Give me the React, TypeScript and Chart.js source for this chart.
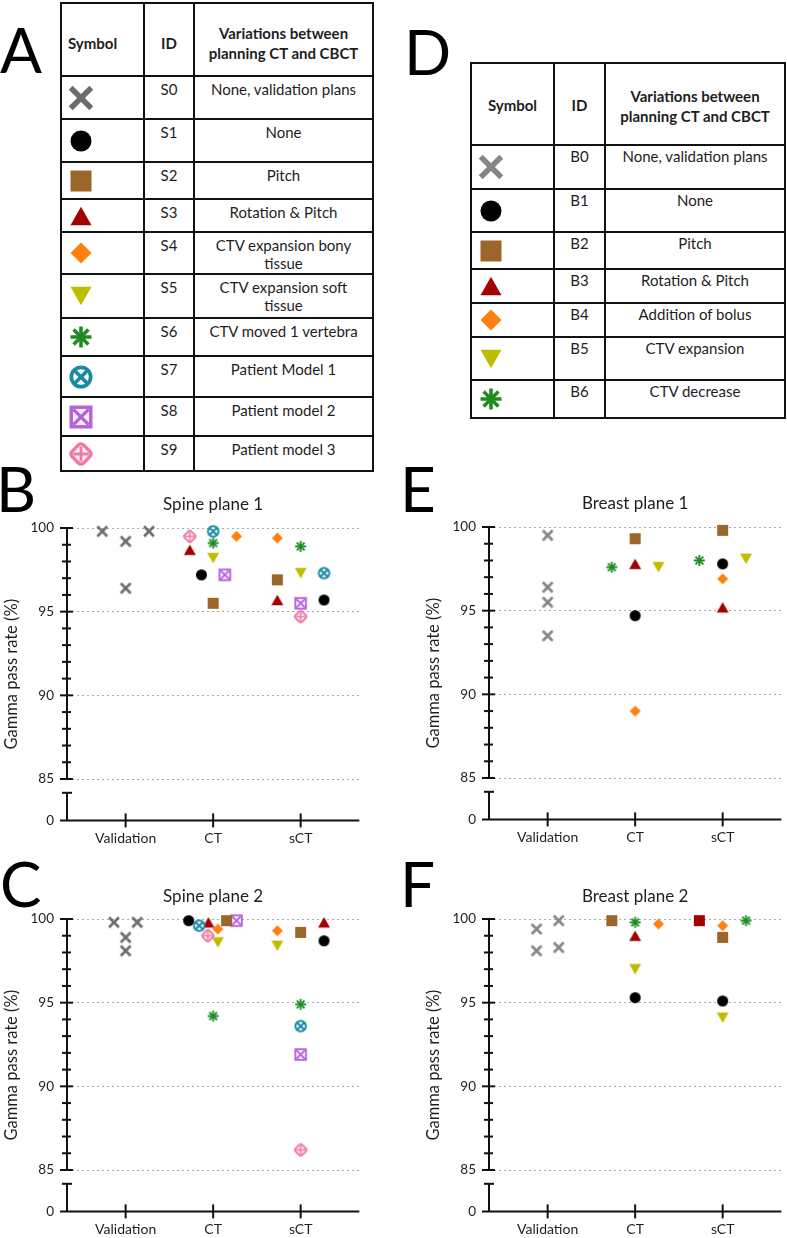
import React, { useEffect, useRef } from 'react';
import { Chart, registerables } from 'chart.js';

Chart.register(...registerables);

// ---------------------------------------------------------------------------
// Data
// ---------------------------------------------------------------------------

const CATEGORIES = ['Validation', 'CT', 'sCT'];
const Y_MAJOR_TICKS = [85, 90, 95, 100];

const SPINE_IDS = ['S0', 'S1', 'S2', 'S3', 'S4', 'S5', 'S6', 'S7', 'S8', 'S9'];
const SPINE_VARIATIONS = [
  'None, validation plans',
  'None',
  'Pitch',
  'Rotation & Pitch',
  'CTV expansion bony\ntissue',
  'CTV expansion soft\ntissue',
  'CTV moved 1 vertebra',
  'Patient Model 1',
  'Patient model 2',
  'Patient model 3',
];

const BREAST_IDS = ['B0', 'B1', 'B2', 'B3', 'B4', 'B5', 'B6'];
const BREAST_VARIATIONS = [
  'None, validation plans',
  'None',
  'Pitch',
  'Rotation & Pitch',
  'Addition of bolus',
  'CTV expansion',
  'CTV decrease',
];

type Point = [string, number, number]; // [series id, category index, gamma pass rate %]

const SPINE_PLANE_1: Point[] = [
  ['S0', 0, 99.8], ['S0', 0, 99.2], ['S0', 0, 99.8], ['S0', 0, 96.4],
  ['S9', 1, 99.5], ['S3', 1, 98.7], ['S1', 1, 97.2], ['S7', 1, 99.8], ['S6', 1, 99.1],
  ['S5', 1, 98.2], ['S2', 1, 95.5], ['S8', 1, 97.2], ['S4', 1, 99.5],
  ['S4', 2, 99.4], ['S2', 2, 96.9], ['S3', 2, 95.7], ['S6', 2, 98.9], ['S5', 2, 97.3],
  ['S8', 2, 95.5], ['S9', 2, 94.7], ['S7', 2, 97.3], ['S1', 2, 95.7],
];
const SPINE_PLANE_1_LANES = [-2, 0, 2, 0, -2, -2, -1, 0, 0, 0, 0, 1, 2, -2, -2, -2, 0, 0, 0, 0, 2, 2];

const SPINE_PLANE_2: Point[] = [
  ['S0', 0, 99.8], ['S0', 0, 99.8], ['S0', 0, 98.9], ['S0', 0, 98.1],
  ['S1', 1, 99.9], ['S7', 1, 99.6], ['S3', 1, 99.8], ['S9', 1, 99.0], ['S4', 1, 99.4],
  ['S5', 1, 98.6], ['S2', 1, 99.9], ['S8', 1, 99.9], ['S6', 1, 94.2],
  ['S4', 2, 99.3], ['S5', 2, 98.4], ['S2', 2, 99.2], ['S6', 2, 94.9], ['S7', 2, 93.6],
  ['S8', 2, 91.9], ['S9', 2, 86.2], ['S3', 2, 99.8], ['S1', 2, 98.7],
];
const SPINE_PLANE_2_LANES = [-1, 1, 0, 0, -2.1, -1.2, -0.4, -0.45, 0.4, 0.4, 1.15, 2, 0, -2, -2, 0, 0, 0, 0, 0, 2, 2];

const BREAST_PLANE_1: Point[] = [
  ['B0', 0, 99.5], ['B0', 0, 96.4], ['B0', 0, 95.5], ['B0', 0, 93.5],
  ['B6', 1, 97.6], ['B2', 1, 99.3], ['B3', 1, 97.8], ['B1', 1, 94.7], ['B4', 1, 89.0], ['B5', 1, 97.6],
  ['B6', 2, 98.0], ['B2', 2, 99.8], ['B1', 2, 97.8], ['B4', 2, 96.9], ['B3', 2, 95.2], ['B5', 2, 98.1],
];
const BREAST_PLANE_1_LANES = [0, 0, 0, 0, -2, 0, 0, 0, 0, 2, -2, 0, 0, 0, 0, 2];

const BREAST_PLANE_2: Point[] = [
  ['B0', 0, 99.4], ['B0', 0, 98.1], ['B0', 0, 99.9], ['B0', 0, 98.3],
  ['B2', 1, 99.9], ['B6', 1, 99.8], ['B3', 1, 99.0], ['B5', 1, 97.0], ['B1', 1, 95.3], ['B4', 1, 99.7],
  ['B2r', 2, 99.9], ['B4', 2, 99.6], ['B2', 2, 98.9], ['B1', 2, 95.1], ['B5', 2, 94.1], ['B6', 2, 99.9],
];
const BREAST_PLANE_2_LANES = [-0.95, -0.95, 0.95, 0.95, -2, 0, 0, 0, 0, 2, -2, 0, 0, 0, 0, 2];

// ---------------------------------------------------------------------------
// Styles
// ---------------------------------------------------------------------------

type Kind = 'x' | 'circle' | 'square' | 'tri' | 'triDown' | 'diamond' | 'star' | 'circX' | 'boxX' | 'diaPlus';

const TEXT = '#1e1e1e';
const LINE = '2px solid #111';
const FONT = 'Lato, "Open Sans", sans-serif';

const SYMBOLS: Record<string, { kind: Kind; color: string }> = {
  S0: { kind: 'x', color: '#6c6c6c' },
  S1: { kind: 'circle', color: '#000000' },
  S2: { kind: 'square', color: '#9c662b' },
  S3: { kind: 'tri', color: '#a30000' },
  S4: { kind: 'diamond', color: '#ff800f' },
  S5: { kind: 'triDown', color: '#c0bd00' },
  S6: { kind: 'star', color: '#1f8c22' },
  S7: { kind: 'circX', color: '#1a8aa3' },
  S8: { kind: 'boxX', color: '#b563dd' },
  S9: { kind: 'diaPlus', color: '#f07aa6' },
  B0: { kind: 'x', color: '#858585' },
  B1: { kind: 'circle', color: '#000000' },
  B2: { kind: 'square', color: '#9c662b' },
  B2r: { kind: 'square', color: '#a30000' },
  B3: { kind: 'tri', color: '#a30000' },
  B4: { kind: 'diamond', color: '#ff800f' },
  B5: { kind: 'triDown', color: '#c0bd00' },
  B6: { kind: 'star', color: '#1f8c22' },
};

const CHART_SIZE: Record<Kind, number> = {
  x: 12, circle: 11, square: 11, tri: 12, triDown: 12, diamond: 11, star: 11, circX: 12.5, boxX: 12.5, diaPlus: 13,
};
const TABLE_SIZE: Record<Kind, number> = {
  x: 25, circle: 21, square: 21, tri: 21, triDown: 21, diamond: 21, star: 21, circX: 23, boxX: 23, diaPlus: 23,
};

function drawSymbol(ctx: CanvasRenderingContext2D, kind: Kind, color: string, s: number) {
  const h = s / 2;
  ctx.fillStyle = color;
  ctx.strokeStyle = color;
  ctx.lineJoin = 'miter';
  ctx.lineCap = 'butt';
  const path = (pts: number[][]) => {
    ctx.beginPath();
    pts.forEach(([x, y], i) => (i ? ctx.lineTo(x, y) : ctx.moveTo(x, y)));
    ctx.closePath();
  };
  const cross = (a: number, diag: boolean) => {
    ctx.beginPath();
    if (diag) {
      ctx.moveTo(-a, -a); ctx.lineTo(a, a); ctx.moveTo(a, -a); ctx.lineTo(-a, a);
    } else {
      ctx.moveTo(-a, 0); ctx.lineTo(a, 0); ctx.moveTo(0, -a); ctx.lineTo(0, a);
    }
    ctx.stroke();
  };
  switch (kind) {
    case 'x': {
      ctx.lineWidth = s * 0.22;
      cross(h - ctx.lineWidth * 0.4, true);
      break;
    }
    case 'circle':
      ctx.beginPath(); ctx.arc(0, 0, h, 0, Math.PI * 2); ctx.fill();
      break;
    case 'square':
      ctx.fillRect(-h, -h, s, s);
      break;
    case 'tri':
      path([[0, -0.44 * s], [h, 0.44 * s], [-h, 0.44 * s]]); ctx.fill();
      break;
    case 'triDown':
      path([[0, 0.44 * s], [h, -0.44 * s], [-h, -0.44 * s]]); ctx.fill();
      break;
    case 'diamond':
      path([[0, -h], [h, 0], [0, h], [-h, 0]]); ctx.fill();
      break;
    case 'star': {
      ctx.lineWidth = s * 0.17;
      cross(h, false);
      cross(h * 0.7071, true);
      break;
    }
    case 'circX': {
      const lw = s * 0.16;
      ctx.lineWidth = lw;
      const r = h - lw / 2;
      ctx.beginPath(); ctx.arc(0, 0, r, 0, Math.PI * 2);
      ctx.fillStyle = '#ffffff'; ctx.fill(); ctx.stroke();
      cross(r * 0.62, true);
      break;
    }
    case 'boxX': {
      const lw = s * 0.15;
      ctx.lineWidth = lw;
      const r = h - lw / 2;
      ctx.fillStyle = '#fbf3ff';
      ctx.fillRect(-r, -r, 2 * r, 2 * r);
      ctx.strokeRect(-r, -r, 2 * r, 2 * r);
      cross(r * 0.78, true);
      break;
    }
    case 'diaPlus': {
      const lw = s * 0.15;
      ctx.lineWidth = lw;
      const r = h - lw / 2;
      const q = r / 1.2;
      ctx.save();
      ctx.rotate(Math.PI / 4);
      ctx.beginPath();
      ctx.roundRect(-q, -q, 2 * q, 2 * q, q * 0.45);
      ctx.fillStyle = '#fff5f9';
      ctx.fill();
      ctx.stroke();
      ctx.restore();
      ctx.lineWidth = lw * 0.85;
      cross(r * 0.78, false);
      break;
    }
  }
}

const markerCache = new Map<string, HTMLCanvasElement>();
function markerFor(id: string): HTMLCanvasElement {
  const cached = markerCache.get(id);
  if (cached) return cached;
  const { kind, color } = SYMBOLS[id];
  const s = CHART_SIZE[kind];
  const c = document.createElement('canvas');
  const w = Math.ceil(s + 4);
  c.width = w;
  c.height = w;
  const ctx = c.getContext('2d')!;
  ctx.translate(w / 2, w / 2);
  drawSymbol(ctx, kind, color, s);
  markerCache.set(id, c);
  return c;
}

function SymbolIcon({ id }: { id: string }) {
  const ref = useRef<HTMLCanvasElement>(null);
  useEffect(() => {
    const c = ref.current;
    if (!c) return;
    const ctx = c.getContext('2d')!;
    ctx.clearRect(0, 0, c.width, c.height);
    ctx.save();
    ctx.translate(c.width / 2, c.height / 2);
    const { kind, color } = SYMBOLS[id];
    drawSymbol(ctx, kind, color, TABLE_SIZE[kind]);
    ctx.restore();
  }, [id]);
  return <canvas ref={ref} width={28} height={28} style={{ display: 'block' }} />;
}

// ---------------------------------------------------------------------------
// Symbol key tables
// ---------------------------------------------------------------------------

interface TableProps {
  left: number;
  top: number;
  colWidths: number[];
  rowHeights: number[];
  ids: string[];
  texts: string[];
  headerSymbolCentered: boolean;
  headerPad: number;
  textPad: number;
}

function KeyTable(p: TableProps) {
  const cell = (extra: React.CSSProperties): React.CSSProperties => ({
    boxSizing: 'border-box',
    borderRight: LINE,
    borderBottom: LINE,
    overflow: 'hidden',
    ...extra,
  });
  return (
    <div
      style={{
        position: 'absolute',
        left: p.left,
        top: p.top,
        display: 'grid',
        gridTemplateColumns: p.colWidths.map((w) => w + 'px').join(' '),
        gridTemplateRows: p.rowHeights.map((h) => h + 'px').join(' '),
        borderTop: LINE,
        borderLeft: LINE,
        color: TEXT,
        fontFamily: FONT,
        fontSize: 15,
        lineHeight: '18px',
      }}
    >
      <div
        style={cell({
          display: 'flex',
          alignItems: 'center',
          justifyContent: p.headerSymbolCentered ? 'center' : 'flex-start',
          paddingLeft: p.headerSymbolCentered ? 0 : 6,
          paddingTop: p.headerPad,
          fontWeight: 700,
        })}
      >
        Symbol
      </div>
      <div style={cell({ display: 'flex', alignItems: 'center', justifyContent: 'center', paddingTop: p.headerPad, fontWeight: 700 })}>
        ID
      </div>
      <div
        style={cell({
          display: 'flex',
          alignItems: 'center',
          justifyContent: 'center',
          textAlign: 'center',
          paddingTop: p.headerPad + 1,
          fontWeight: 700,
          whiteSpace: 'pre-line',
          lineHeight: '20px',
        })}
      >
        {'Variations between\nplanning CT and CBCT'}
      </div>
      {p.ids.map((id, i) => (
        <React.Fragment key={id}>
          <div style={cell({ display: 'flex', alignItems: 'center', paddingLeft: 5 })}>
            <SymbolIcon id={id} />
          </div>
          <div style={cell({ textAlign: 'center', paddingTop: p.textPad })}>{id}</div>
          <div style={cell({ textAlign: 'center', paddingTop: p.textPad, whiteSpace: 'pre-line' })}>{p.texts[i]}</div>
        </React.Fragment>
      ))}
    </div>
  );
}

// ---------------------------------------------------------------------------
// Scatter panels with a broken y axis (85-100 above, 0 below the break)
// ---------------------------------------------------------------------------

const AX = 67; // axis x inside the canvas
const TOP = 44; // top of the 85-100 segment inside the canvas
const PLOT_W = 293.3;
const PLOT_H = 292.4;
const UPPER_H = 251;
const RIGHT_PAD = 6;
const BOTTOM = 34;
const LANE = 0.1334;
const X_MIN = -0.67;
const X_MAX = 2.67;

const brokenAxisPlugin = {
  id: 'brokenAxis',
  beforeDatasetsDraw(chart: any, _args: any, opts: any) {
    const { ctx, chartArea } = chart;
    const ys = chart.scales.y;
    const yb = chart.scales.yb;
    const xs = chart.scales.x;
    const ax = chartArea.left;
    const seg = (x1: number, y1: number, x2: number, y2: number) => {
      ctx.beginPath();
      ctx.moveTo(x1, y1);
      ctx.lineTo(x2, y2);
      ctx.stroke();
    };
    ctx.save();
    ctx.strokeStyle = '#111';
    ctx.lineWidth = 2;
    const top = ys.getPixelForValue(ys.max);
    const bottom = ys.getPixelForValue(ys.min);
    seg(ax, top - 1, ax, bottom + 1);
    for (let v = ys.min; v <= ys.max; v += 1) {
      const py = ys.getPixelForValue(v);
      const len = v % 5 === 0 ? 7 : 5;
      seg(ax - len, py, ax + len - 1, py);
    }
    const b0 = yb.getPixelForValue(0);
    const b1 = yb.getPixelForValue(1);
    seg(ax, b1, ax, b0);
    seg(ax - 5, b1, ax + 5, b1);
    seg(ax - 7, b0, chartArea.right, b0);
    for (let i = 0; i < CATEGORIES.length; i++) {
      const px = xs.getPixelForValue(i);
      seg(px, b0 - 7, px, b0 + 7);
    }
    ctx.fillStyle = TEXT;
    ctx.font = `16.5px ${FONT}`;
    ctx.textAlign = 'center';
    ctx.textBaseline = 'middle';
    ctx.translate(ax - 55, (top + b0) / 2);
    ctx.rotate(-Math.PI / 2);
    ctx.fillText(opts.title, 0, 0);
    ctx.restore();
  },
};

interface PanelProps {
  title: string;
  points: Point[];
  lanes: number[];
  axisX: number;
  top100: number;
  titleY: number;
}

function ScatterPanel(p: PanelProps) {
  const ref = useRef<HTMLCanvasElement>(null);
  const left = p.axisX - AX;
  const top = p.top100 - TOP;
  const width = AX + PLOT_W + RIGHT_PAD;
  const height = TOP + PLOT_H + BOTTOM;

  useEffect(() => {
    const ids: string[] = [];
    p.points.forEach(([id]) => {
      if (!ids.includes(id)) ids.push(id);
    });
    const datasets = ids.map((id) => ({
      label: id,
      data: p.points
        .map(([sid, cat, value], i) => ({ sid, x: cat + p.lanes[i] * LANE, y: value }))
        .filter((d) => d.sid === id)
        .map(({ x, y }) => ({ x, y })),
      pointStyle: markerFor(id) as any,
      pointRadius: 6,
      pointHoverRadius: 6,
      showLine: false,
      clip: false as any,
      yAxisID: 'y',
    }));

    const titleLine = 17 * 1.2;
    const titleCenter = p.titleY - top;
    const padTop = titleCenter - titleLine / 2;
    const padBottom = TOP - padTop - titleLine;

    const chart = new Chart(ref.current!, {
      type: 'scatter',
      data: { datasets },
      plugins: [brokenAxisPlugin],
      options: {
        animation: false,
        responsive: true,
        maintainAspectRatio: false,
        events: [],
        layout: { padding: { left: 0, right: RIGHT_PAD, top: 0, bottom: 0 } },
        plugins: {
          legend: { display: false },
          tooltip: { enabled: false },
          title: {
            display: true,
            text: p.title,
            fullSize: false,
            color: TEXT,
            font: { family: FONT, size: 17, weight: 'normal' },
            padding: { top: padTop, bottom: padBottom },
          },
          brokenAxis: { title: 'Gamma pass rate (%)' },
        } as any,
        scales: {
          x: {
            type: 'linear',
            min: X_MIN,
            max: X_MAX,
            afterBuildTicks: (s: any) => {
              s.ticks = CATEGORIES.map((_, i) => ({ value: i }));
            },
            afterFit: (s: any) => {
              s.height = BOTTOM;
            },
            ticks: {
              autoSkip: false,
              maxRotation: 0,
              padding: 10,
              color: TEXT,
              font: { family: FONT, size: 14 },
              callback: (v: any) => CATEGORIES[v] ?? '',
            },
            grid: { display: false, drawTicks: false },
            border: { display: false },
          },
          y: {
            type: 'linear',
            position: 'left',
            stack: 'gamma',
            stackWeight: UPPER_H,
            weight: 1,
            min: 85,
            max: 100,
            afterBuildTicks: (s: any) => {
              s.ticks = Y_MAJOR_TICKS.map((v) => ({ value: v }));
            },
            afterFit: (s: any) => {
              s.width = AX;
            },
            ticks: { padding: 13, color: TEXT, font: { family: FONT, size: 13.5 } },
            grid: { color: '#a9a9a9', lineWidth: 1, drawTicks: false },
            border: { display: false, dash: [2, 3] },
          },
          yb: {
            type: 'linear',
            position: 'left',
            stack: 'gamma',
            stackWeight: PLOT_H - UPPER_H,
            weight: 0,
            min: 0,
            max: 1.5,
            afterBuildTicks: (s: any) => {
              s.ticks = [{ value: 0 }];
            },
            afterFit: (s: any) => {
              s.width = AX;
            },
            ticks: { padding: 13, color: TEXT, font: { family: FONT, size: 13.5 } },
            grid: { display: false, drawTicks: false },
            border: { display: false },
          },
        } as any,
      },
    });
    return () => chart.destroy();
  }, []);

  return (
    <div style={{ position: 'absolute', left, top, width, height }}>
      <canvas ref={ref} />
    </div>
  );
}

// ---------------------------------------------------------------------------
// Page
// ---------------------------------------------------------------------------

const LETTERS: [string, number, number][] = [
  ['A', 0, 73],
  ['D', 404, 75],
  ['B', -4, 512],
  ['E', 400, 512],
  ['C', 0, 907],
  ['F', 400, 907],
];

function PanelLetter({ text, left, baseline }: { text: string; left: number; baseline: number }) {
  return (
    <div
      style={{
        position: 'absolute',
        left,
        top: baseline - 55,
        fontFamily: FONT,
        fontSize: 62,
        fontWeight: 400,
        lineHeight: '62px',
        color: '#000',
      }}
    >
      {text}
    </div>
  );
}

export default function App() {
  return (
    <div
      style={{
        position: 'absolute',
        left: 0,
        top: 0,
        width: 787,
        height: 1238,
        overflow: 'hidden',
        background: '#ffffff',
      }}
    >
      {LETTERS.map(([t, l, b]) => (
        <PanelLetter key={t} text={t} left={l} baseline={b} />
      ))}
      <KeyTable
        left={60}
        top={2}
        colWidths={[83, 50, 179]}
        rowHeights={[73, 43, 43, 37, 33, 42, 44, 38, 41, 39, 35]}
        ids={SPINE_IDS}
        texts={SPINE_VARIATIONS}
        headerSymbolCentered={false}
        headerPad={6}
        textPad={3}
      />
      <KeyTable
        left={470}
        top={62}
        colWidths={[83, 51, 180]}
        rowHeights={[82, 44, 43, 37, 34, 34, 43, 38]}
        ids={BREAST_IDS}
        texts={BREAST_VARIATIONS}
        headerSymbolCentered={true}
        headerPad={2}
        textPad={1}
      />
      <ScatterPanel title="Spine plane 1" points={SPINE_PLANE_1} lanes={SPINE_PLANE_1_LANES} axisX={67} top100={528} titleY={505} />
      <ScatterPanel title="Breast plane 1" points={BREAST_PLANE_1} lanes={BREAST_PLANE_1_LANES} axisX={489} top100={527} titleY={504} />
      <ScatterPanel title="Spine plane 2" points={SPINE_PLANE_2} lanes={SPINE_PLANE_2_LANES} axisX={67} top100={919} titleY={897} />
      <ScatterPanel title="Breast plane 2" points={BREAST_PLANE_2} lanes={BREAST_PLANE_2_LANES} axisX={489} top100={919} titleY={897} />
    </div>
  );
}
